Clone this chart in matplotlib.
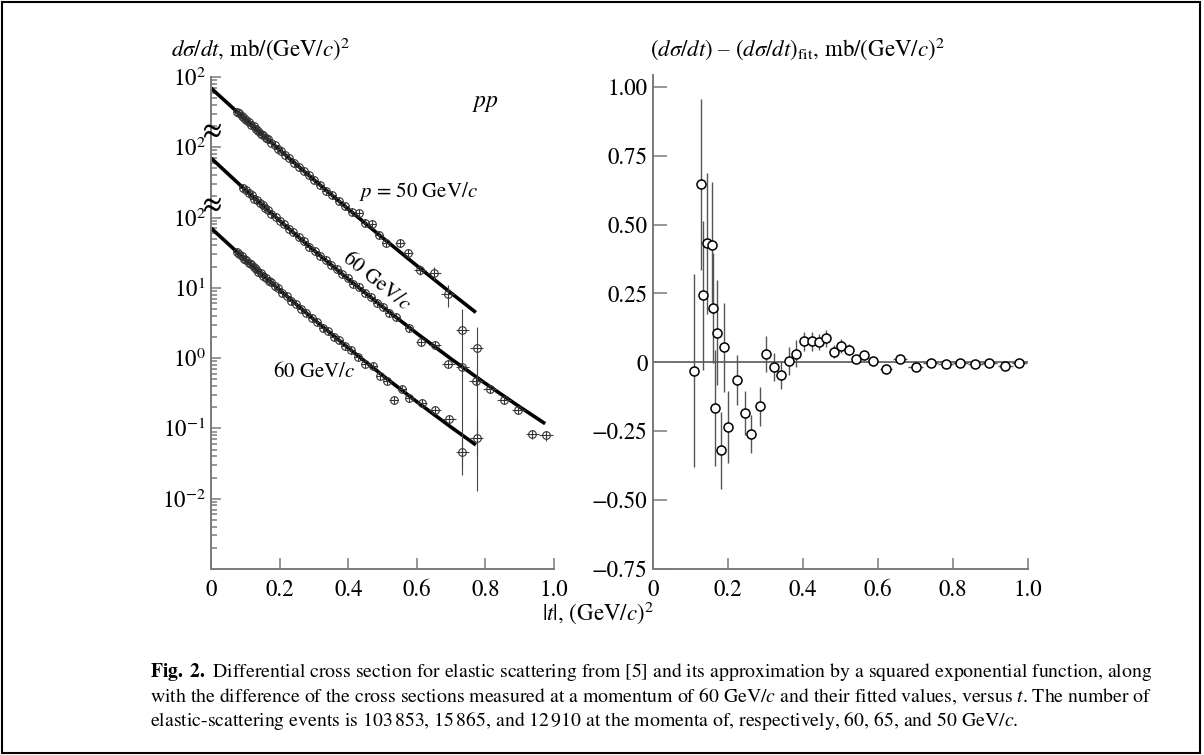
import numpy as np
import matplotlib
matplotlib.use('Agg')
import matplotlib.pyplot as plt
from matplotlib.ticker import FixedLocator, FixedFormatter, LogLocator, NullFormatter
from matplotlib.patches import Rectangle

plt.rcParams['font.family'] = ['STIXGeneral', 'DejaVu Sans']
plt.rcParams['mathtext.fontset'] = 'stix'

#%% Data: left panel, d(sigma)/dt in mb/(GeV/c)^2 (real values, shifted on the plot)
# p = 50 GeV/c  (shown x100)
t50 = [0.075, 0.082, 0.089, 0.096, 0.103, 0.110, 0.117, 0.124, 0.131, 0.138,
       0.145, 0.152, 0.159, 0.166, 0.175, 0.185, 0.195, 0.205, 0.215, 0.228,
       0.242, 0.256, 0.270, 0.285, 0.300, 0.318, 0.336, 0.354, 0.372, 0.390,
       0.410, 0.430, 0.450, 0.470, 0.490, 0.510, 0.550, 0.575, 0.610, 0.650,
       0.690, 0.733, 0.774]
ds50 = [32.1, 30.2, 27.6, 26.1, 24.0, 22.7, 20.8, 19.8, 18.0, 17.2,
        15.6, 14.9, 13.6, 12.9, 11.6, 10.7, 9.5, 8.8, 7.8, 7.0,
        6.0, 5.3, 4.55, 4.0, 3.4, 2.92, 2.40, 2.06, 1.70, 1.46,
        1.18, 1.15, 0.83, 0.81, 0.57, 0.44, 0.44, 0.312, 0.180, 0.165,
        0.081, 0.0253, 0.0139]
err50 = [1.6, 1.5, 1.4, 1.3, 1.2, 1.1, 1.0, 1.0, 0.9, 0.9,
         0.8, 0.75, 0.7, 0.65, 0.6, 0.55, 0.5, 0.45, 0.4, 0.36,
         0.32, 0.28, 0.25, 0.22, 0.19, 0.17, 0.15, 0.13, 0.11, 0.10,
         0.09, 0.09, 0.07, 0.07, 0.05, 0.045, 0.06, 0.045, 0.03, 0.035,
         0.027, 0.025, 0.0135]
xerr50 = [0.004, 0.004, 0.004, 0.004, 0.004, 0.004, 0.004, 0.004, 0.004, 0.004,
          0.004, 0.004, 0.004, 0.004, 0.004, 0.004, 0.004, 0.004, 0.004, 0.004,
          0.006, 0.006, 0.006, 0.006, 0.006, 0.006, 0.006, 0.006, 0.006, 0.006,
          0.008, 0.008, 0.008, 0.008, 0.008, 0.008, 0.015, 0.015, 0.018, 0.02,
          0.02, 0.02, 0.02]
# p = 60 GeV/c, middle curve (shown x10)
t60a = [0.094, 0.102, 0.110, 0.118, 0.126, 0.134, 0.142, 0.150, 0.158, 0.166,
        0.176, 0.188, 0.200, 0.213, 0.226, 0.240, 0.255, 0.270, 0.286, 0.302,
        0.318, 0.334, 0.350, 0.366, 0.382, 0.398, 0.414, 0.430, 0.448, 0.466,
        0.484, 0.502, 0.520, 0.540, 0.577, 0.612, 0.653, 0.692, 0.733, 0.772,
        0.813, 0.854, 0.896, 0.937, 0.976]
ds60a = [26.3, 24.5, 22.0, 20.7, 18.6, 17.7, 15.9, 15.0, 13.5, 12.8,
         11.2, 10.2, 8.9, 8.0, 6.85, 6.15, 5.2, 4.6, 3.85, 3.38,
         2.82, 2.49, 2.08, 1.85, 1.55, 1.37, 1.15, 1.02, 0.84, 0.74,
         0.61, 0.54, 0.44, 0.385, 0.267, 0.167, 0.153, 0.083, 0.0735, 0.0465,
         0.0362, 0.0255, 0.0180, 0.0083, 0.0080]
err60a = [1.0, 1.0, 0.9, 0.8, 0.75, 0.7, 0.65, 0.6, 0.55, 0.5,
          0.45, 0.4, 0.36, 0.32, 0.28, 0.25, 0.21, 0.19, 0.16, 0.14,
          0.12, 0.1, 0.09, 0.08, 0.07, 0.06, 0.05, 0.045, 0.04, 0.035,
          0.03, 0.028, 0.024, 0.022, 0.015, 0.012, 0.012, 0.007, 0.007, 0.005,
          0.004, 0.003, 0.0022, 0.0013, 0.0013]
xerr60a = [0.004, 0.004, 0.004, 0.004, 0.004, 0.004, 0.004, 0.004, 0.004, 0.004,
           0.004, 0.004, 0.004, 0.004, 0.004, 0.004, 0.004, 0.004, 0.006, 0.006,
           0.006, 0.006, 0.006, 0.006, 0.006, 0.006, 0.006, 0.006, 0.008, 0.008,
           0.008, 0.008, 0.008, 0.008, 0.012, 0.015, 0.018, 0.02, 0.02, 0.02,
           0.02, 0.02, 0.02, 0.02, 0.02]
# p = 60 GeV/c, lower curve (not shifted)
t60b = [0.075, 0.082, 0.089, 0.096, 0.103, 0.110, 0.117, 0.124, 0.131, 0.138,
        0.145, 0.152, 0.160, 0.168, 0.176, 0.186, 0.196, 0.208, 0.220, 0.234,
        0.248, 0.262, 0.278, 0.294, 0.310, 0.326, 0.342, 0.358, 0.374, 0.390,
        0.408, 0.428, 0.449, 0.473, 0.493, 0.512, 0.532, 0.556, 0.577, 0.614,
        0.653, 0.695, 0.733, 0.774]
ds60b = [32.5, 29.8, 28.5, 25.8, 24.6, 22.4, 21.5, 19.5, 18.6, 16.9,
         16.2, 14.6, 14.0, 12.5, 11.9, 10.5, 9.8, 8.4, 7.75, 6.55,
         5.9, 5.0, 4.42, 3.7, 3.28, 2.72, 2.42, 2.0, 1.8, 1.5,
         1.32, 1.05, 0.82, 0.76, 0.56, 0.47, 0.255, 0.36, 0.27, 0.229,
         0.182, 0.138, 0.0454, 0.0728]
err60b = [1.1, 1.0, 1.0, 0.9, 0.85, 0.8, 0.75, 0.7, 0.65, 0.6,
          0.57, 0.52, 0.5, 0.44, 0.42, 0.37, 0.35, 0.3, 0.28, 0.24,
          0.21, 0.18, 0.16, 0.14, 0.12, 0.1, 0.09, 0.075, 0.068, 0.058,
          0.052, 0.042, 0.035, 0.034, 0.026, 0.023, 0.03, 0.025, 0.02, 0.02,
          0.018, 0.016, 0.024, 0.06]
xerr60b = [0.004, 0.004, 0.004, 0.004, 0.004, 0.004, 0.004, 0.004, 0.004, 0.004,
           0.004, 0.004, 0.004, 0.004, 0.004, 0.004, 0.004, 0.006, 0.006, 0.006,
           0.006, 0.006, 0.006, 0.006, 0.006, 0.006, 0.006, 0.006, 0.006, 0.006,
           0.008, 0.008, 0.01, 0.01, 0.01, 0.01, 0.012, 0.012, 0.012, 0.015,
           0.018, 0.018, 0.02, 0.02]

# fitted curves
tfit50 = [0.0, 0.1, 0.2, 0.3, 0.4, 0.5, 0.6, 0.7, 0.772]
fit50 = [69.2, 24.9, 9.16, 3.44, 1.318, 0.516, 0.206, 0.0841, 0.0446]
tfit60a = [0.0, 0.1, 0.2, 0.3, 0.4, 0.5, 0.6, 0.7, 0.8, 0.9, 0.974]
fit60a = [70.0, 24.7, 9.01, 3.40, 1.328, 0.537, 0.2246, 0.0972, 0.0435, 0.0202, 0.01167]
tfit60b = [0.0, 0.1, 0.2, 0.3, 0.4, 0.5, 0.6, 0.7, 0.772]
fit60b = [70.6, 25.2, 9.29, 3.54, 1.394, 0.5675, 0.2388, 0.1039, 0.0582]

#%% Data: right panel, (dsigma/dt) - (dsigma/dt)_fit at 60 GeV/c
tr = [0.109, 0.127, 0.133, 0.145, 0.157, 0.161, 0.165, 0.171, 0.180, 0.190,
      0.200, 0.223, 0.245, 0.262, 0.285, 0.301, 0.323, 0.341, 0.362, 0.382,
      0.402, 0.423, 0.443, 0.461, 0.483, 0.502, 0.523, 0.542, 0.562, 0.586,
      0.622, 0.659, 0.700, 0.741, 0.781, 0.819, 0.859, 0.897, 0.939, 0.976]
dr = [-0.03, 0.646, 0.243, 0.432, 0.426, 0.196, -0.165, 0.108, -0.32, 0.054,
      -0.235, -0.064, -0.185, -0.26, -0.16, 0.029, -0.017, -0.046, 0.004, 0.032,
      0.076, 0.076, 0.073, 0.087, 0.039, 0.058, 0.046, 0.013, 0.025, 0.004,
      -0.024, 0.013, -0.016, -0.001, -0.007, -0.004, -0.005, -0.004, -0.012, -0.004]
er = [0.35, 0.31, 0.27, 0.255, 0.23, 0.2, 0.21, 0.19, 0.14, 0.16,
      0.13, 0.09, 0.08, 0.07, 0.07, 0.065, 0.05, 0.05, 0.05, 0.05,
      0.035, 0.035, 0.03, 0.03, 0.025, 0.025, 0.02, 0.015, 0.015, 0.01,
      0.01, 0.008, 0.006, 0.005, 0.005, 0.005, 0.005, 0.005, 0.005, 0.005]
xr = [0.002, 0.002, 0.002, 0.002, 0.002, 0.002, 0.002, 0.002, 0.002, 0.002,
      0.003, 0.003, 0.003, 0.003, 0.003, 0.004, 0.004, 0.004, 0.005, 0.005,
      0.006, 0.006, 0.006, 0.007, 0.008, 0.009, 0.01, 0.01, 0.012, 0.014,
      0.016, 0.018, 0.02, 0.02, 0.02, 0.02, 0.02, 0.02, 0.02, 0.02]

#%% Figure
fig = plt.figure(figsize=(12.04, 7.55), dpi=100)
spine_c = '#7a7a7a'
fs_tick = 16.5

ax1 = fig.add_axes([0.1753, 0.2464, 0.2849, 0.6517])
ax2 = fig.add_axes([0.5424, 0.2464, 0.3115, 0.6543])

for ax in (ax1, ax2):
    for s in ('top', 'right'):
        ax.spines[s].set_visible(False)
    for s in ('left', 'bottom'):
        ax.spines[s].set_color(spine_c)
        ax.spines[s].set_linewidth(1.4)
    ax.tick_params(which='both', direction='in', color=spine_c, labelsize=fs_tick, width=1.1)
    ax.tick_params(axis='x', which='major', length=8, pad=8)
    ax.set_xlim(0, 1.0)
    ax.xaxis.set_major_locator(FixedLocator([0, 0.2, 0.4, 0.6, 0.8, 1.0]))
    ax.xaxis.set_major_formatter(FixedFormatter(['0', '0.2', '0.4', '0.6', '0.8', '1.0']))

# left panel
ax1.set_yscale('log')
ax1.set_ylim(1e-3, 1e4)
ax1.yaxis.set_major_locator(FixedLocator([1e-2, 1e-1, 1, 10, 100, 1e3, 1e4]))
ax1.yaxis.set_major_formatter(FixedFormatter(['$10^{-2}$', '$10^{-1}$', '$10^{0}$', '$10^{1}$',
                                              '$10^{2}$', '$10^{2}$', '$10^{2}$']))
ax1.yaxis.set_minor_locator(LogLocator(base=10, subs=np.arange(2, 10), numticks=20))
ax1.yaxis.set_minor_formatter(NullFormatter())
ax1.tick_params(axis='y', which='major', length=7, pad=4)
ax1.tick_params(axis='y', which='minor', length=4)

curves = [(t50, ds50, err50, xerr50, tfit50, fit50, 100.0),
          (t60a, ds60a, err60a, xerr60a, tfit60a, fit60a, 10.0),
          (t60b, ds60b, err60b, xerr60b, tfit60b, fit60b, 1.0)]
for t, ds, err, xe, tf, ff, k in curves:
    y = np.array(ds) * k
    ax1.plot(tf, np.array(ff) * k, color='black', lw=2.6, zorder=2, solid_capstyle='butt')
    ax1.errorbar(t, y, yerr=np.array(err) * k, xerr=xe, fmt='o', ms=5.5, mfc='none',
                 mec='#333333', mew=0.8, ecolor='#444444', elinewidth=0.8, capsize=0, zorder=3)
    ax1.plot(t, y, '+', ms=5.5, color='#333333', mew=0.7, zorder=3)

ytr = ax1.get_yaxis_transform()
ax1.text(0.0, 10**3.22, '≈', transform=ytr, fontsize=20, ha='center', va='center', fontweight='bold')
ax1.text(0.0, 10**2.16, '≈', transform=ytr, fontsize=20, ha='center', va='center', fontweight='bold')

ax1.text(0.80, 10**3.63, '$pp$', fontsize=17, ha='center', va='center')
ax1.text(0.43, 10**2.37, '$p$ = 50 GeV/$c$', fontsize=15, ha='left', va='center')
ax1.text(0.483, 10**1.085, '60 GeV/$c$', fontsize=15, ha='center', va='center',
         rotation=-39, rotation_mode='anchor')
ax1.text(0.30, 10**-0.195, '60 GeV/$c$', fontsize=15, ha='center', va='center')

# right panel
ax2.set_ylim(-0.75, 1.043)
ax2.yaxis.set_major_locator(FixedLocator([-0.75, -0.5, -0.25, 0, 0.25, 0.5, 0.75, 1.0]))
ax2.yaxis.set_major_formatter(FixedFormatter(['\u22120.75', '\u22120.50', '\u22120.25', '0',
                                              '0.25', '0.50', '0.75', '1.00']))
ax2.tick_params(axis='y', which='major', length=10, pad=4)
ax2.axhline(0, color='#666666', lw=1.3, zorder=1)
ax2.errorbar(tr, dr, yerr=er, xerr=xr, fmt='o', ms=6.5, mfc='white', mec='black', mew=1.1,
             ecolor='#555555', elinewidth=1.0, capsize=0, zorder=3)

#%% Titles, labels, caption
fig.text(0.142, 0.936, '$d\\sigma/dt$, mb/(GeV/$c$)$^2$', fontsize=16.5, ha='left', va='center')
fig.text(0.540, 0.936, '$(d\\sigma/dt)$ \u2013 $(d\\sigma/dt)_{\\rm fit}$, mb/(GeV/$c$)$^2$',
         fontsize=16.5, ha='left', va='center')
fig.text(0.497, 0.188, '$|t|$, (GeV/$c$)$^2$', fontsize=16.5, ha='center', va='center')

cap = ['$\\mathbf{Fig.\\ 2.}$ Differential cross section for elastic scattering from [5] and its '
       'approximation by a squared exponential function, along',
       'with the difference of the cross sections measured at a momentum of 60 GeV/$c$ and their '
       'fitted values, versus $t$. The number of',
       'elastic-scattering events is 103$\\,$853, 15$\\,$865, and 12$\\,$910 at the momenta of, '
       'respectively, 60, 65, and 50 GeV/$c$.']
for i, line in enumerate(cap):
    fig.text(0.1246, 0.110 - i * 0.0325, line, fontsize=14.2, ha='left', va='center')

fig.add_artist(Rectangle((0.002, 0.003), 0.995, 0.994, transform=fig.transFigure,
                         fill=False, lw=1.5, ec='black'))

plt.savefig('out.png', dpi=100)
